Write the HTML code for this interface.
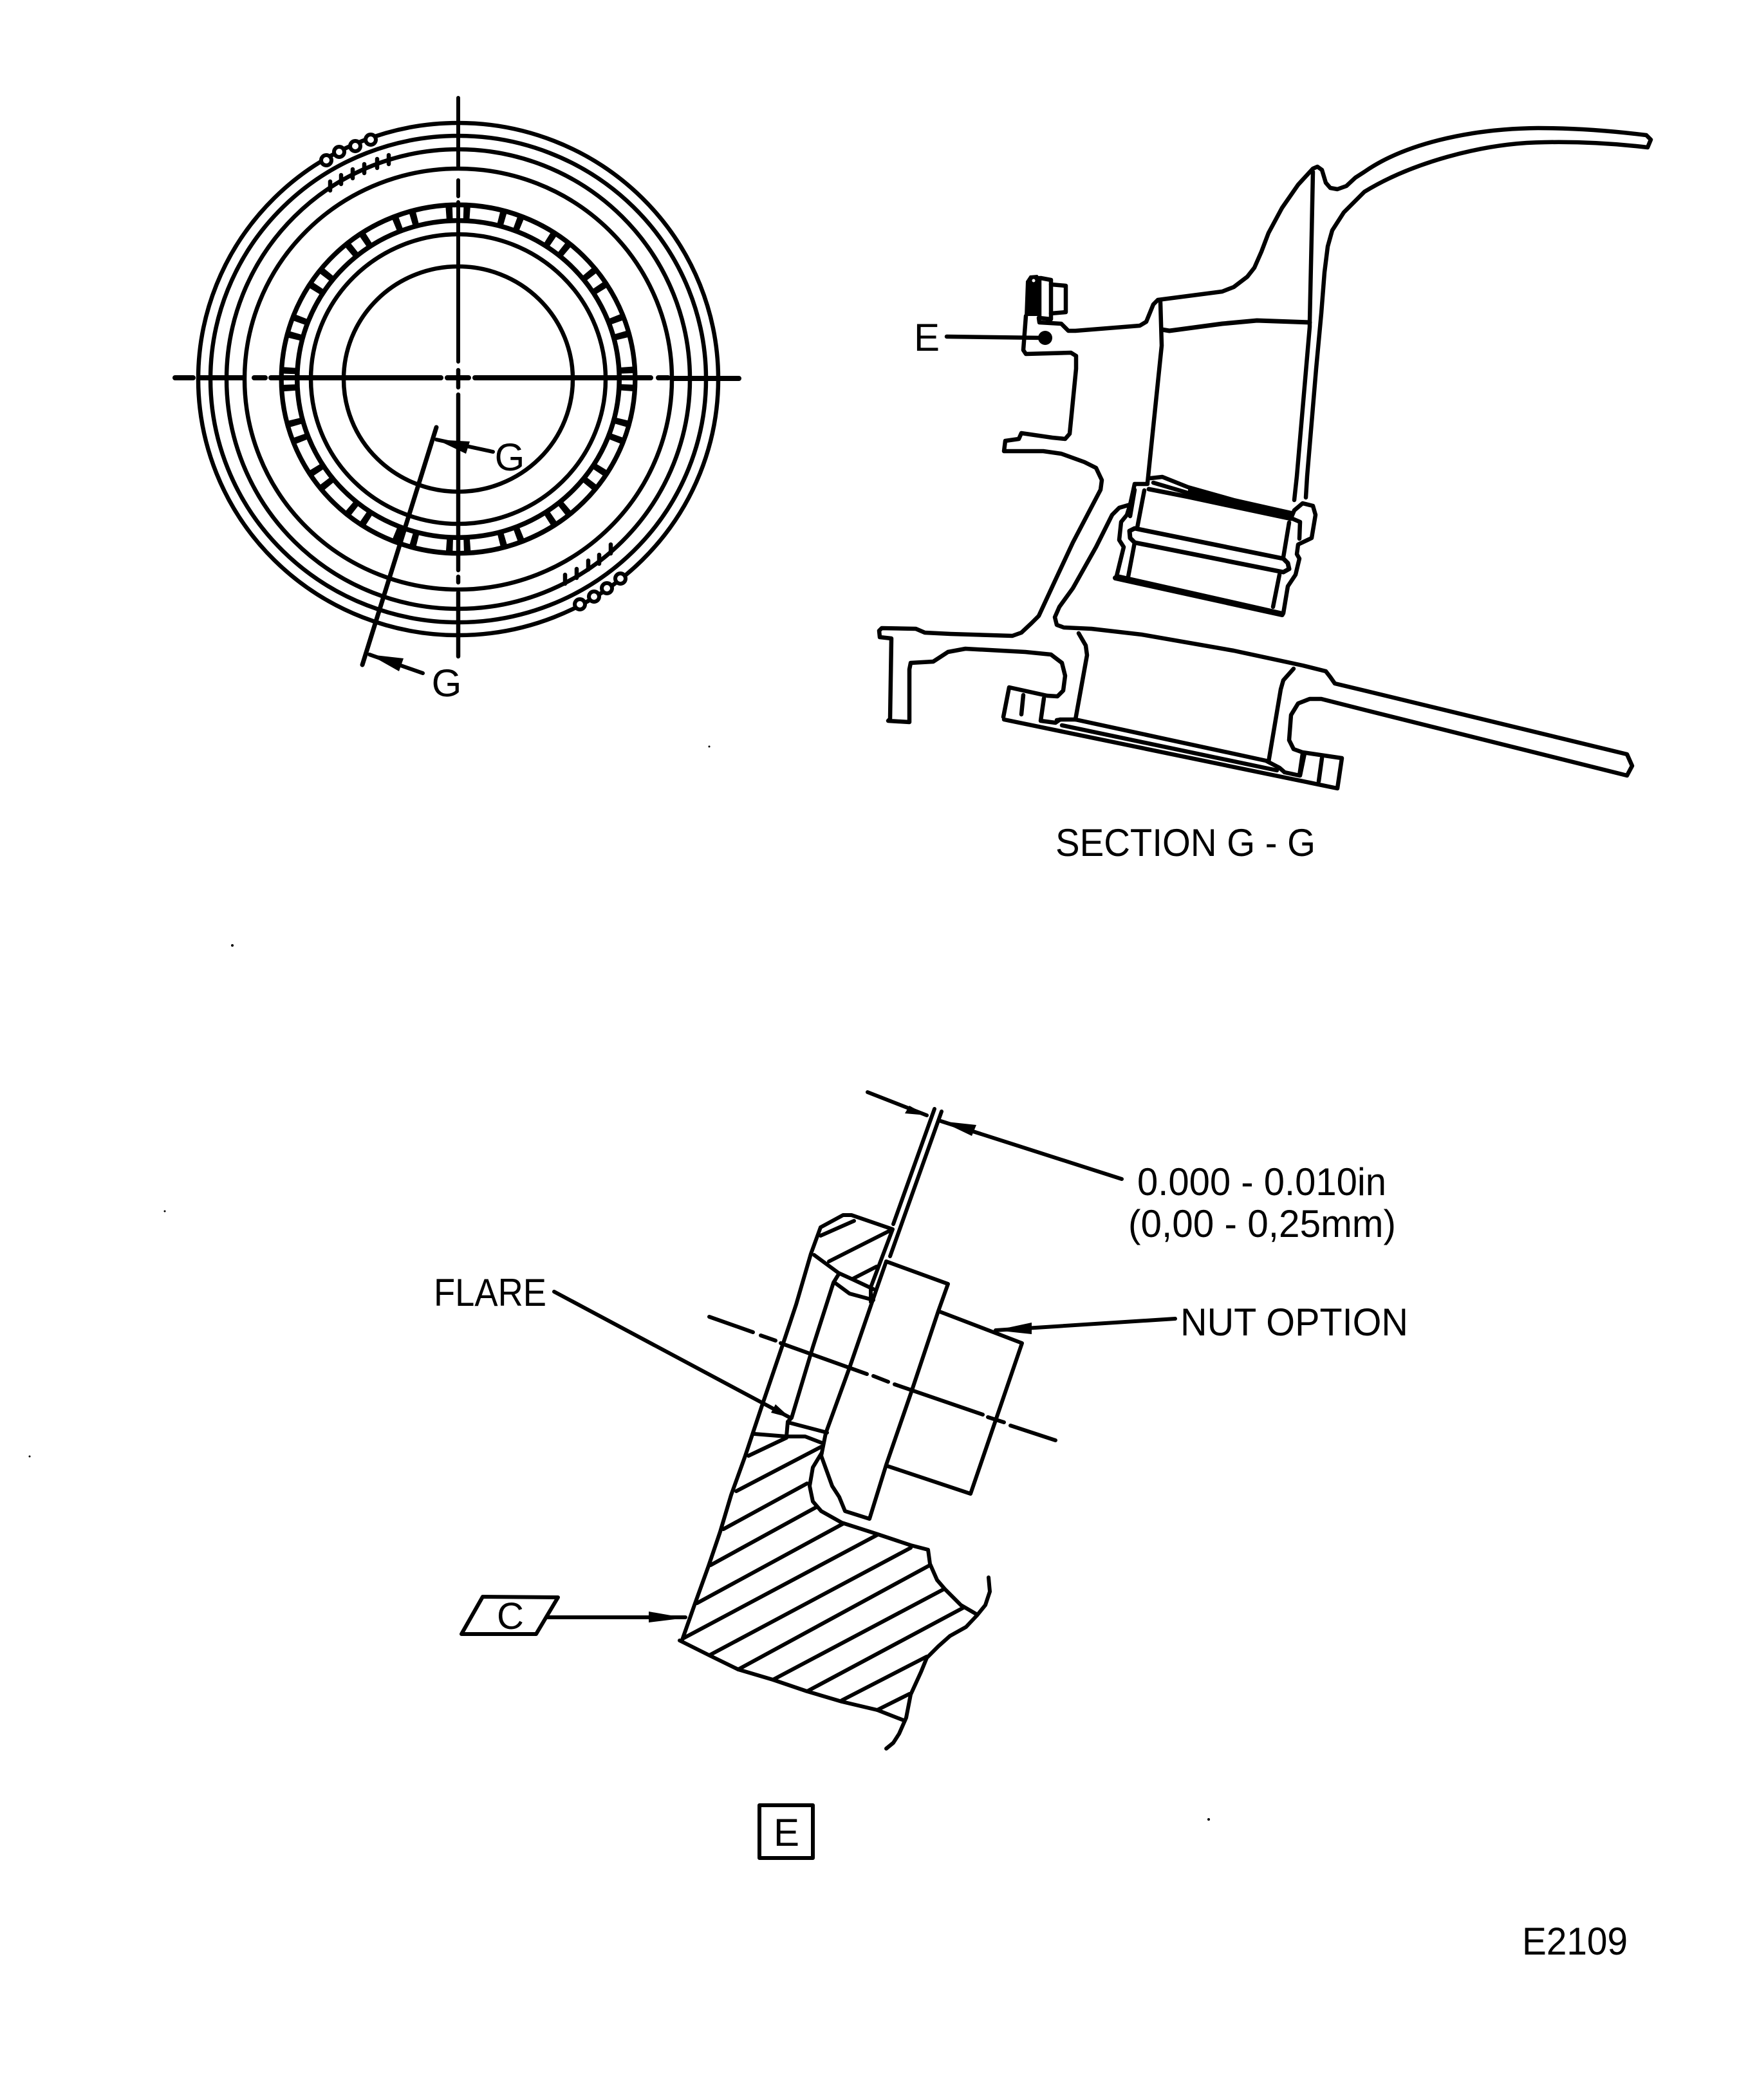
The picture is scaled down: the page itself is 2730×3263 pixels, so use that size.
<!DOCTYPE html>
<html><head><meta charset="utf-8"><style>
html,body{margin:0;padding:0;background:#fff}
svg{display:block}
text{font-family:"Liberation Sans",sans-serif;fill:#000}
.m{fill:none;stroke:#000;stroke-width:6.5;stroke-linejoin:round;stroke-linecap:round}
.t{fill:none;stroke:#000;stroke-width:6;stroke-linejoin:round;stroke-linecap:round}
</style></head><body>
<svg width="2730" height="3263" viewBox="0 0 2730 3263" xmlns="http://www.w3.org/2000/svg">
<rect width="2730" height="3263" fill="#fff"/>
<!-- circular view -->
<g class="m">
<ellipse cx="712" cy="589" rx="404" ry="398"/><ellipse cx="712" cy="589" rx="385" ry="378"/><ellipse cx="712" cy="589" rx="360" ry="357"/><ellipse cx="712" cy="589" rx="332" ry="327"/>
<ellipse cx="712" cy="589" rx="262.5" ry="258.5" style="stroke-width:32"/>
<ellipse cx="712" cy="589" rx="229" ry="225"/><ellipse cx="712" cy="589" rx="178" ry="175"/>
</g>
<circle cx="0" cy="0" r="260" transform="translate(712 589) scale(1.01 .994)" fill="none" stroke="#fff" stroke-width="17" pathLength="360" stroke-dasharray="3.7 2.2 9.9 2.2" stroke-dashoffset="1.85"/>
<g fill="#fff" stroke="#000" stroke-width="6">
<circle cx="507" cy="249" r="8"/><circle cx="527" cy="236" r="8"/><circle cx="552" cy="227" r="8"/><circle cx="576" cy="217" r="8"/>
<circle cx="901" cy="939" r="8"/><circle cx="923" cy="927" r="8"/><circle cx="943" cy="914" r="8"/><circle cx="964" cy="899" r="8"/>
</g>
<g class="m">
<path d="M513 282V296M530 272V286M548 263V277M566 255V269M586 247V261M604 241V255M878 893V907M896 884V898M914 871V885M931 862V876M949 846V860"/>
</g>
<g class="m">
<path d="M712 152V258M712 280V305M712 314V562" style="stroke-width:6"/><path d="M712 575V602M712 613V886M712 896V905M712 921V1020"/>
<path d="M272 587H300M309 587H377M395 587H412M421 587H685M695 587H728M738 587H1011M1023 587H1038M1044 588H1148" style="stroke-width:8"/>
<path d="M678 664L563 1033" style="stroke-width:7"/>
</g>
<g class="t"><path d="M678 683L766 702M574 1017L657 1046"/></g>
<path d="M678 683L730 686L724 705Z M574 1017L627 1023L620 1043Z" fill="#000"/>
<text x="792" y="731" font-size="60" text-anchor="middle">G</text>
<text x="694" y="1082" font-size="60" text-anchor="middle">G</text>

<!-- section G-G -->
<g class="m">
<path d="M1614 494L1615 501L1649 503L1660 514L1671 514L1771 506L1781 500L1792 473L1799 466L1899 453L1917 446L1938 430L1949 416L1960 391L1971 362L1992 323L2017 287L2040 262L2047 259L2054 264L2060 284L2067 292L2078 294L2092 289L2106 276L2120 267C2180 225 2280 200 2390 199C2450 199 2510 204 2558 210L2565 217L2560 229C2500 222 2450 220 2400 221C2300 222 2190 255 2120 298L2088 330L2070 358L2063 383L2058 423L2053 487L2045 573L2031 740L2029 773"/>
<path d="M2040 267L2038 366L2035 501L2035 508L2015 740L2011 777"/>
<path d="M1803 469L1805 537L1783 750"/>
<path d="M1805 512L1817 514L1899 503L1953 498L2035 501" style="stroke-width:7"/>
<path d="M1594 491L1590 544L1594 550L1664 548L1672 553V573L1665 644L1662 674L1655 682L1635 680L1587 673L1583 682L1562 685L1560 701L1621 701L1649 705L1685 718L1703 727L1712 746L1710 761L1667 843L1639 903L1614 957L1603 968L1587 983L1573 988L1477 985L1437 983L1423 977L1370 976L1366 980L1367 990L1385 992L1383 1117L1380 1120L1413 1122V1040L1415 1030L1450 1028L1473 1013L1500 1008L1593 1013L1633 1017L1650 1030L1655 1050L1652 1073L1643 1082L1627 1081L1568 1068L1559 1114"/>
<path d="M1560 1118L2078 1225L2085 1178L2024 1169L2010 1164L2003 1150L2006 1111L2017 1093L2035 1086H2053L2120 1103L2528 1205L2536 1190L2528 1172L2120 1073L2074 1062L2067 1052L2060 1043L2024 1034L1917 1011L1774 986L1696 977L1653 975L1642 971L1639 959L1646 943L1667 914L1703 850L1728 800L1739 789L1756 784L1763 752H1783"/>
<path d="M1756 784L1751 800L1742 811L1739 839L1746 850L1735 895L1992 953L1994 953L2001 911L2013 893L2019 868L2015 861L2017 846L2038 836L2044 800L2040 786L2024 782L2011 793L2006 805L2020 811L2019 837"/>
<path d="M1733 898L1992 955" style="stroke-width:8"/>
<path d="M1778 762L1767 820M1763 843L1753 896M1763 761L1756 802"/>
<path d="M1785 760L1846 772L2006 806" style="stroke-width:7"/>
<path d="M1788 743L1806 741L1846 757L1917 777L1988 793L2006 797"/>
<path d="M1792 750L1846 766"/>
<path d="M1763 821L1994 868L2001 875L2003 884L1994 889L1763 843L1756 836L1755 825Z" style="stroke-width:7"/>
<path d="M2003 812L1994 866M1988 893L1978 943"/>
<path d="M1676 984L1687 1003L1689 1018L1671 1118"/>
<path d="M2010 1039L1994 1057L1990 1071L1971 1184"/>
<path d="M1642 1119L1649 1118H1671L1967 1182L1988 1193L1996 1200L2019 1205L2024 1171"/>
<path d="M1650 1127L1984 1197"/>
<path d="M1590 1080L1587 1110M1622 1085L1617 1120L1640 1123L1647 1118M2027 1171L2020 1205M2054 1178L2049 1214"/>
<path d="M1617 432L1633 435V496L1615 494V432"/>
<path d="M1633 442L1656 444V485L1633 487"/>
</g>
<path d="M1594 437L1600 428L1612 427L1617 433L1615 491L1592 491Z" fill="#000"/>
<path d="M1846 760L2006 795V807L1846 771Z" fill="#000"/>
<circle cx="1606" cy="436" r="2.5" fill="#fff"/>
<circle cx="1624" cy="525" r="11" fill="#000"/>
<g class="m"><path d="M1471 523L1620 525"/></g>
<text x="1440" y="545" font-size="60" text-anchor="middle">E</text>
<text x="1640" y="1330" font-size="60" textLength="404" lengthAdjust="spacingAndGlyphs">SECTION G - G</text>

<!-- detail E -->
<g class="t">
<path d="M1452 1723L1388 1902M1463 1727L1383 1952"/>
<path d="M1275 1907L1310 1888H1323L1387 1910L1353 2000L1353 2023M1275 1920L1327 1897M1275 1907L1260 1948L1237 2027L1217 2087L1183 2187L1158 2262L1136 2323L1119 2380L1101 2433L1079 2494L1060 2548"/>
<path d="M1383 1912L1288 1960"/>
<path d="M1265 1950L1303 1978L1325 1988L1357 2003"/>
<path d="M1325 1987L1362 1968"/>
<path d="M1377 1960L1363 2000L1320 2125L1283 2227L1276 2262"/>
<path d="M1297 1993L1320 2010L1357 2020"/>
<path d="M1303 1980L1295 1993L1263 2093L1230 2203L1224 2209L1222 2232"/>
<path d="M1377 1960L1473 1995L1458 2037L1417 2160L1377 2276L1351 2360L1313 2348L1304 2326L1293 2309L1276 2262"/>
<path d="M1460 2038L1588 2087L1508 2321L1379 2278"/>
<path d="M1102 2046L1170 2070M1182 2075L1205 2083M1213 2087L1347 2135M1357 2138L1380 2147M1390 2151L1527 2198M1535 2202L1560 2210M1570 2215L1640 2238"/>
<path d="M1172 2228L1222 2232L1251 2232L1277 2242M1224 2210L1285 2226"/>
<path d="M861 2007L1228 2203M1348 1697L1440 1733M1462 1742L1743 1832M1547 2067L1826 2049M851 2513H1065"/>
<path d="M1277 2257L1263 2280L1258 2309L1263 2333L1276 2348L1308 2366L1361 2383L1415 2401L1442 2408L1445 2430L1456 2455L1468 2469L1493 2494L1517 2508"/>
<path d="M1056 2549L1104 2573L1147 2594L1201 2610L1254 2628L1308 2644L1363 2657L1404 2673"/>
<path d="M1536 2451L1538 2473L1531 2494L1518 2510L1501 2528L1476 2542L1458 2558L1440 2576L1431 2598L1415 2633L1408 2669L1397 2694L1388 2708L1377 2717"/>
<path d="M1163 2262L1222 2234M1144 2317L1276 2248M1124 2376L1254 2305M1104 2432L1268 2342M1083 2491L1311 2367M1061 2546L1363 2385M1104 2571L1415 2405M1147 2594L1443 2433M1201 2610L1467 2469M1254 2628L1497 2498M1308 2642L1440 2574M1363 2657L1413 2632"/>
<path d="M750 2481L867 2482L833 2539L717 2539Z"/>
<rect x="1180" y="2805" width="83" height="82"/>
</g>
<path d="M1440 1733L1413 1718L1406 1730Z M1462 1742L1517 1748L1510 1765Z M1228 2203L1205 2182L1198 2195Z M1547 2067L1603 2055V2073Z M1065 2514L1008 2504V2521Z" fill="#000"/>
<text x="1767" y="1857" font-size="60" textLength="387" lengthAdjust="spacingAndGlyphs">0.000 - 0.010in</text>
<text x="1753" y="1922" font-size="60" textLength="416" lengthAdjust="spacingAndGlyphs">(0,00 - 0,25mm)</text>
<text x="1834" y="2075" font-size="60" textLength="354" lengthAdjust="spacingAndGlyphs">NUT OPTION</text>
<text x="674" y="2029" font-size="60" textLength="175" lengthAdjust="spacingAndGlyphs">FLARE</text>
<text x="793" y="2531" font-size="58" text-anchor="middle">C</text>
<text x="1222" y="2868" font-size="60" text-anchor="middle">E</text>
<text x="2365" y="3037" font-size="60" textLength="164" lengthAdjust="spacingAndGlyphs">E2109</text>
<g fill="#000"><circle cx="361" cy="1469" r="2"/><circle cx="1878" cy="2827" r="2"/><circle cx="1102" cy="1160" r="1.5"/><circle cx="46" cy="2263" r="1.5"/><circle cx="256" cy="1882" r="1.5"/></g>
</svg>
</body></html>
